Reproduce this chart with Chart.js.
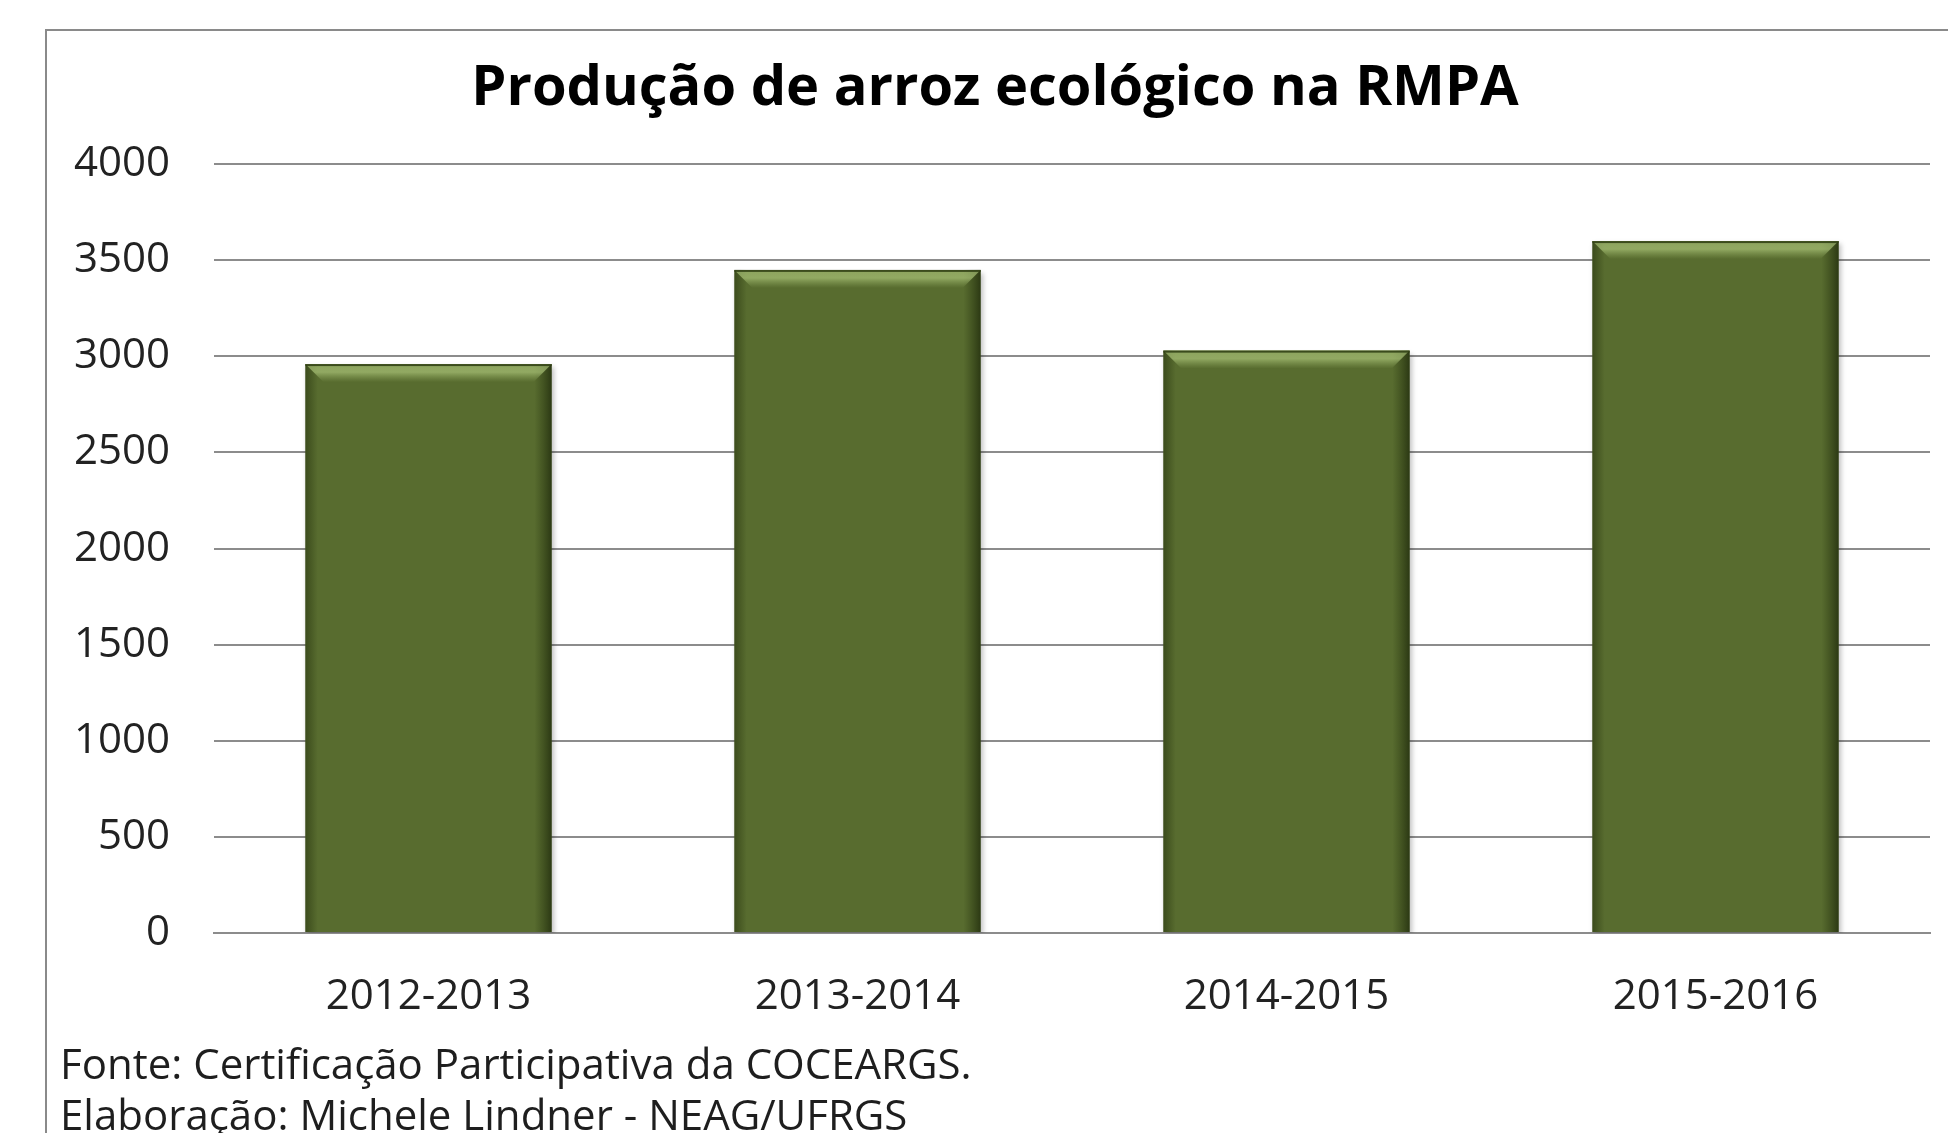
<!DOCTYPE html>
<html><head><meta charset="utf-8">
<script src="https://cdn.jsdelivr.net/npm/chart.js@4.4.1/dist/chart.umd.min.js"></script>
<style>
html,body{margin:0;padding:0;background:#fff;overflow:hidden;width:1948px;height:1133px;}
#frame{position:absolute;left:45px;top:29px;width:1960px;height:1200px;border-left:2px solid #8a8a8a;border-top:2px solid #8a8a8a;box-sizing:border-box;}
#wrap{position:absolute;left:0;top:0;width:1948px;height:1150px;}
</style></head><body>
<div id="frame"></div>
<div id="wrap"><canvas id="c" width="1948" height="1150"></canvas></div>
<script>
const categories = ['2012-2013', '2013-2014', '2014-2015', '2015-2016'];
const production = [2960, 3450, 3030, 3600];
const yTicks = [0, 500, 1000, 1500, 2000, 2500, 3000, 3500, 4000];
const titleText = 'Produção de arroz ecológico na RMPA';
const footerLines = ['Fonte: Certificação Participativa da COCEARGS.', 'Elaboração: Michele Lindner - NEAG/UFRGS'];

const bevel = {
  id: 'bevel',
  beforeDatasetDraw(chart) {
    const ctx = chart.ctx;
    ctx.save();
    ctx.shadowColor = 'rgba(0,0,0,0.25)';
    ctx.shadowBlur = 5;
    ctx.shadowOffsetX = 2;
    ctx.shadowOffsetY = 3;
  },
  afterDatasetDraw(chart) {
    const ctx = chart.ctx;
    ctx.restore();
    chart.getDatasetMeta(0).data.forEach(bar => {
      const p = bar.getProps(['x', 'y', 'base', 'width'], true);
      const l = p.x - p.width / 2, r = p.x + p.width / 2, t = p.y, b = p.base;
      ctx.save();
      let g = ctx.createLinearGradient(l, 0, r, 0);
      g.addColorStop(0, 'rgba(35,48,12,0.55)');
      g.addColorStop(0.05, 'rgba(35,48,12,0)');
      g.addColorStop(0.93, 'rgba(35,48,12,0)');
      g.addColorStop(1, 'rgba(25,35,8,0.7)');
      ctx.fillStyle = g;
      ctx.fillRect(l, t, r - l, b - t);
      const h = 18;
      ctx.beginPath();
      ctx.moveTo(l, t); ctx.lineTo(r, t); ctx.lineTo(r - h, t + h); ctx.lineTo(l + h, t + h); ctx.closePath();
      let g2 = ctx.createLinearGradient(0, t, 0, t + h);
      g2.addColorStop(0, 'rgba(175,200,125,0.6)');
      g2.addColorStop(0.45, 'rgba(170,195,120,0.7)');
      g2.addColorStop(1, 'rgba(150,175,100,0)');
      ctx.fillStyle = g2;
      ctx.fill();
      ctx.fillStyle = 'rgba(45,60,18,0.85)';
      ctx.fillRect(l, t, r - l, 2);
      ctx.restore();
    });
  }
};

new Chart(document.getElementById('c'), {
  type: 'bar',
  data: {
    labels: categories,
    datasets: [{
      data: production,
      backgroundColor: '#586C2F',
      borderWidth: 0,
      barPercentage: 0.574,
      categoryPercentage: 1.0
    }]
  },
  options: {
    responsive: false,
    animation: false,
    devicePixelRatio: 1,
    layout: { padding: { left: 60, right: 18, top: 55, bottom: 0 } },
    plugins: {
      legend: { display: false },
      tooltip: { enabled: false },
      title: {
        display: true, text: titleText, color: '#000',
        font: { family: 'Open Sans', size: 56, weight: 'bold', lineHeight: 1.2 },
        padding: { top: 0, bottom: 42 }
      },
      subtitle: {
        display: true, position: 'bottom', align: 'start', text: footerLines, color: '#1e1e1e',
        font: { family: 'Open Sans', size: 42, lineHeight: 1.21 },
        padding: { top: 0, bottom: 7 }
      }
    },
    scales: {
      x: {
        afterFit(s) { s.height = 108.4; },
        grid: { display: false, drawTicks: false },
        border: { display: true, color: '#8c8c8c', width: 2 },
        ticks: { color: '#222', font: { family: 'Open Sans', size: 42, lineHeight: 1.2 }, padding: 39 }
      },
      y: {
        min: 0, max: 4000,
        afterFit(s) { s.width = 154; },
        afterBuildTicks(s) { s.ticks = yTicks.map(v => ({ value: v })); },
        grid: { color: '#8c8c8c', lineWidth: 2, drawTicks: false },
        border: { display: false },
        ticks: { color: '#222', font: { family: 'Open Sans', size: 42 }, padding: 44, callback: v => String(v) }
      }
    }
  },
  plugins: [bevel]
});
</script>
</body></html>
